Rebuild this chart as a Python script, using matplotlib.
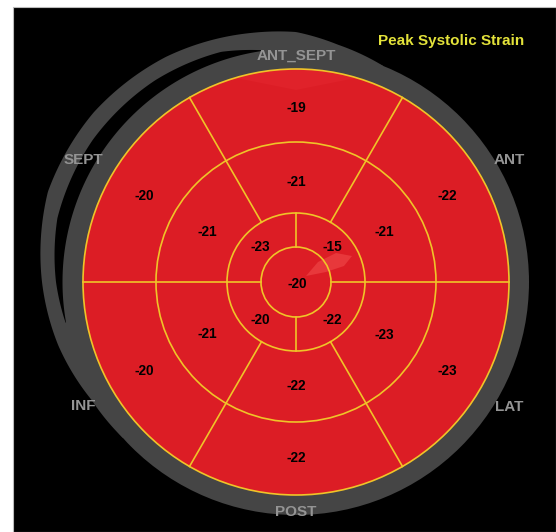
import numpy as np
import matplotlib
matplotlib.use("Agg")
import matplotlib.pyplot as plt
from matplotlib.patches import Wedge, Circle, Polygon, Rectangle

plt.rcParams['font.family'] = ['Liberation Sans', 'DejaVu Sans']

# ---- data ----
title = "Peak Systolic Strain"
wall_labels = ["ANT_SEPT", "ANT", "LAT", "POST", "INF", "SEPT"]
wall_angles = [90, 30, 330, 270, 210, 150]
basal_values = [-19, -22, -23, -22, -20, -20]
mid_values = [-21, -21, -23, -22, -21, -21]
apical_angles = [45, 315, 225, 135]
apical_values = [-15, -22, -20, -23]
apex_value = -20

# ---- geometry / style ----
W, H = 556, 532
cx, cy = 296, 282
r_apex, r_apical, r_mid, r_basal = 35, 69, 140, 213
RED = "#dc1d25"
YEL = "#f0c428"
GRAY = "#454545"
LBL = "#949494"

fig = plt.figure(figsize=(W / 100, H / 100), dpi=100)
ax = fig.add_axes([0, 0, 1, 1])
ax.set_xlim(0, W)
ax.set_ylim(H, 0)
ax.set_aspect('equal')
ax.axis('off')
fig.patch.set_facecolor('white')

# background
ax.add_patch(Rectangle((13, 7), W - 13, H - 7, facecolor='black', edgecolor='#bbbbbb', lw=0.8, zorder=0))


def pt(r, deg):
    t = np.deg2rad(deg)
    return cx + r * np.cos(t), cy - r * np.sin(t)


# gray outer arc (crescent) on the upper-left side
th = np.linspace(68, 222, 300)
ro = np.interp(th, [68, 80, 90, 100, 120, 140, 160, 180, 195, 210, 222],
               [233, 241, 250, 253, 260, 264, 264, 254, 246, 236, 233])
outer = [pt(r, a) for r, a in zip(ro, th)] + [pt(230, a) for a in th[::-1]]
ax.add_patch(Polygon(outer, closed=True, facecolor=GRAY, edgecolor='none', zorder=1))
# black gap between arcs
tg = np.linspace(98, 190, 200)
gw = np.interp(tg, [98, 108, 125, 145, 165, 180, 190], [0, 8, 12, 14, 13, 6, 0])
gap = [pt(234 + w, a) for w, a in zip(gw, tg)] + [pt(233.5, a) for a in tg[::-1]]
ax.add_patch(Polygon(gap, closed=True, facecolor='black', edgecolor='none', zorder=2))
# gray ring
ax.add_patch(Circle((cx, cy), 233, facecolor=GRAY, edgecolor='none', zorder=1.5))

# segments
for a in wall_angles:
    ax.add_patch(Wedge((cx, cy), r_basal, a - 30, a + 30, width=r_basal - r_mid,
                       facecolor=RED, edgecolor='none', zorder=3))
    ax.add_patch(Wedge((cx, cy), r_mid, a - 30, a + 30, width=r_mid - r_apical,
                       facecolor=RED, edgecolor='none', zorder=3))
for a in apical_angles:
    ax.add_patch(Wedge((cx, cy), r_apical, a - 45, a + 45, width=r_apical - r_apex,
                       facecolor=RED, edgecolor='none', zorder=3))
ax.add_patch(Circle((cx, cy), r_apex, facecolor=RED, edgecolor='none', zorder=3))

# lighter shading patches
top_patch = [pt(213, a) for a in np.linspace(62, 118, 60)] + [(cx - 60, 78), (cx, 90), (cx + 60, 78)]
ax.add_patch(Polygon(top_patch, closed=True, facecolor='#e0222a', edgecolor='none', zorder=3.5))
blade = [(306, 276), (318, 262), (336, 253), (352, 256), (344, 266), (326, 272)]
ax.add_patch(Polygon(blade, closed=True, facecolor='#e8383b', edgecolor='none', zorder=3.5))

# yellow grid
for r in (r_apex, r_apical, r_mid, r_basal):
    ax.add_patch(Circle((cx, cy), r, facecolor='none', edgecolor=YEL, lw=1.2, zorder=4))
for a in wall_angles:
    b = a - 30
    x0, y0 = pt(r_apical, b)
    x1, y1 = pt(r_basal, b)
    ax.plot([x0, x1], [y0, y1], color=YEL, lw=1.2, zorder=4)
for a in apical_angles:
    b = a - 45
    x0, y0 = pt(r_apex, b)
    x1, y1 = pt(r_apical, b)
    ax.plot([x0, x1], [y0, y1], color=YEL, lw=1.2, zorder=4)

# values
fs = 9.8
for a, v in zip(wall_angles, basal_values):
    x, y = pt(175, a)
    ax.text(x, y, f"{v}", ha='center', va='center_baseline', fontsize=fs, fontweight='bold', color='black', zorder=5)
for a, v in zip(wall_angles, mid_values):
    x, y = pt(102, a)
    ax.text(x, y, f"{v}", ha='center', va='center_baseline', fontsize=fs, fontweight='bold', color='black', zorder=5)
for a, v in zip(apical_angles, apical_values):
    x, y = pt(51, a)
    ax.text(x, y, f"{v}", ha='center', va='center_baseline', fontsize=fs, fontweight='bold', color='black', zorder=5)
ax.text(cx + 1, cy, f"{apex_value}", ha='center', va='center_baseline', fontsize=fs, fontweight='bold', color='black', zorder=5)

# wall labels
label_r = {"ANT_SEPT": 228, "POST": 229}
for name, a in zip(wall_labels, wall_angles):
    r = label_r.get(name, 246)
    x, y = pt(r, a)
    ax.text(x, y, name, ha='center', va='center_baseline', fontsize=11, fontweight='bold', color=LBL, zorder=6)

ax.text(451, 45, title, ha='center', va='baseline', fontsize=11, fontweight='bold', color='#e3e23a', zorder=6)

fig.savefig("out.png", dpi=100, facecolor=fig.get_facecolor())
